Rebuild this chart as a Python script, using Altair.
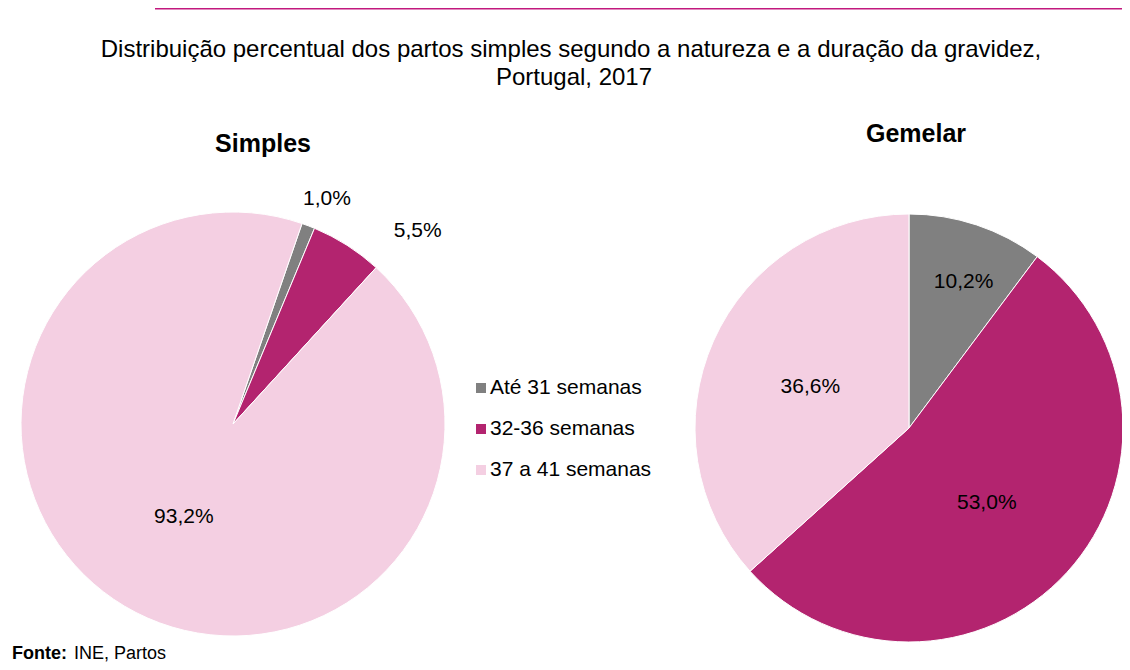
import math
import altair as alt
import pandas as pd

# ---------------- data ----------------
categories = ["Até 31 semanas", "32-36 semanas", "37 a 41 semanas"]
simples_values = [1.0, 5.5, 93.2]
gemelar_values = [10.2, 53.0, 36.6]
simples_labels = ["1,0%", "5,5%", "93,2%"]
gemelar_labels = ["10,2%", "53,0%", "36,6%"]
title_lines = [
    "Distribuição percentual dos partos simples segundo a natureza e a duração da gravidez,",
    "Portugal, 2017",
]
panel_titles = ["Simples", "Gemelar"]
source_bold = "Fonte:"
source_text = "INE, Partos"

colors = ["#808080", "#B3246F", "#F4CFE2"]
FONT = "Liberation Sans"
BORDER = "#C2187E"

df_s = pd.DataFrame({"cat": categories, "value": simples_values,
                     "label": simples_labels, "order": [0, 1, 2]})
df_g = pd.DataFrame({"cat": categories, "value": gemelar_values,
                     "label": gemelar_labels, "order": [0, 1, 2]})
df_leg = pd.DataFrame({"cat": categories})

color_scale = alt.Scale(domain=categories, range=colors)

# geometry (chart coordinates = page minus 8px margin)
S_CX, S_CY, S_R = 225, 416, 212
G_CX, G_CY, G_R = 901, 420, 214
S_START = math.radians(19)
G_START = 0.0
LABEL_SIZE = 21


def theta_enc(start):
    return alt.Theta("value:Q", stack=True,
                     scale=alt.Scale(range=[start, start + 2 * math.pi]))


def pie(df, cx, cy, r, start):
    return alt.Chart(df).mark_arc(radius=r, stroke="white", strokeWidth=1).encode(
        theta=theta_enc(start),
        order=alt.Order("order:Q"),
        color=alt.Color("cat:N", scale=color_scale, legend=None),
        x=alt.value(cx), y=alt.value(cy),
    )


def pie_label(df, cx, cy, start, cat, radius, dx=0, dy=0):
    return alt.Chart(df).mark_text(
        radius=radius, dx=dx, dy=dy, font=FONT, fontSize=LABEL_SIZE, color="black",
        align="center", baseline="middle",
    ).encode(
        theta=theta_enc(start),
        order=alt.Order("order:Q"),
        text=alt.condition(alt.datum.cat == cat, alt.Text("label:N"), alt.value("")),
        x=alt.value(cx), y=alt.value(cy),
    )


def text_at(txt, x, y, size, weight="normal", align="center", baseline="alphabetic"):
    return alt.Chart(pd.DataFrame({"t": [txt]})).mark_text(
        font=FONT, fontSize=size, fontWeight=weight, color="black",
        align=align, baseline=baseline,
    ).encode(text="t:N", x=alt.value(x), y=alt.value(y))


layers = []

# top border line
layers.append(
    alt.Chart(pd.DataFrame({"a": [0]})).mark_rule(color=BORDER, strokeWidth=1.5).encode(
        x=alt.value(147), x2=alt.value(1114), y=alt.value(0.75)
    )
)

# titles
layers.append(text_at(title_lines[0], 563, 49, 24))
layers.append(text_at(title_lines[1], 566, 77, 24))
layers.append(text_at(panel_titles[0], 255, 144, 25, weight="bold"))
layers.append(text_at(panel_titles[1], 908, 134, 25, weight="bold"))

# pies
layers.append(pie(df_s, S_CX, S_CY, S_R, S_START))
layers.append(pie(df_g, G_CX, G_CY, G_R, G_START))

# pie labels
layers.append(pie_label(df_s, S_CX, S_CY, S_START, categories[2], 104, dx=4, dy=4))
layers.append(pie_label(df_s, S_CX, S_CY, S_START, categories[0], 245, dx=7, dy=4))
layers.append(pie_label(df_s, S_CX, S_CY, S_START, categories[1], 245, dx=53, dy=14))
layers.append(pie_label(df_g, G_CX, G_CY, G_START, categories[0], 157, dx=5, dy=3))
layers.append(pie_label(df_g, G_CX, G_CY, G_START, categories[1], 108, dx=-2, dy=2))
layers.append(pie_label(df_g, G_CX, G_CY, G_START, categories[2], 108, dy=3))

# legend
leg_y = alt.Y("cat:N", scale=alt.Scale(domain=categories, range=[380, 462], padding=0),
              axis=None)
layers.append(
    alt.Chart(df_leg).mark_square(size=100, opacity=1).encode(
        x=alt.value(473), y=leg_y,
        color=alt.Color("cat:N", scale=color_scale, legend=None),
    )
)
layers.append(
    alt.Chart(df_leg).mark_text(font=FONT, fontSize=LABEL_SIZE, color="black",
                                align="left", baseline="middle").encode(
        x=alt.value(482), y=leg_y, text="cat:N",
    )
)

# source
layers.append(text_at(source_bold, 4, 651, 18, weight="bold", align="left"))
layers.append(text_at(source_text, 66, 651, 18, align="left"))

chart = alt.layer(*layers).resolve_scale(theta="independent").properties(
    width=1114, height=654,
    autosize=alt.AutoSizeParams(type="none"),
    padding=0,
).configure_view(stroke=None)

chart.save("out.html", embed_options={"renderer": "svg", "actions": False})
